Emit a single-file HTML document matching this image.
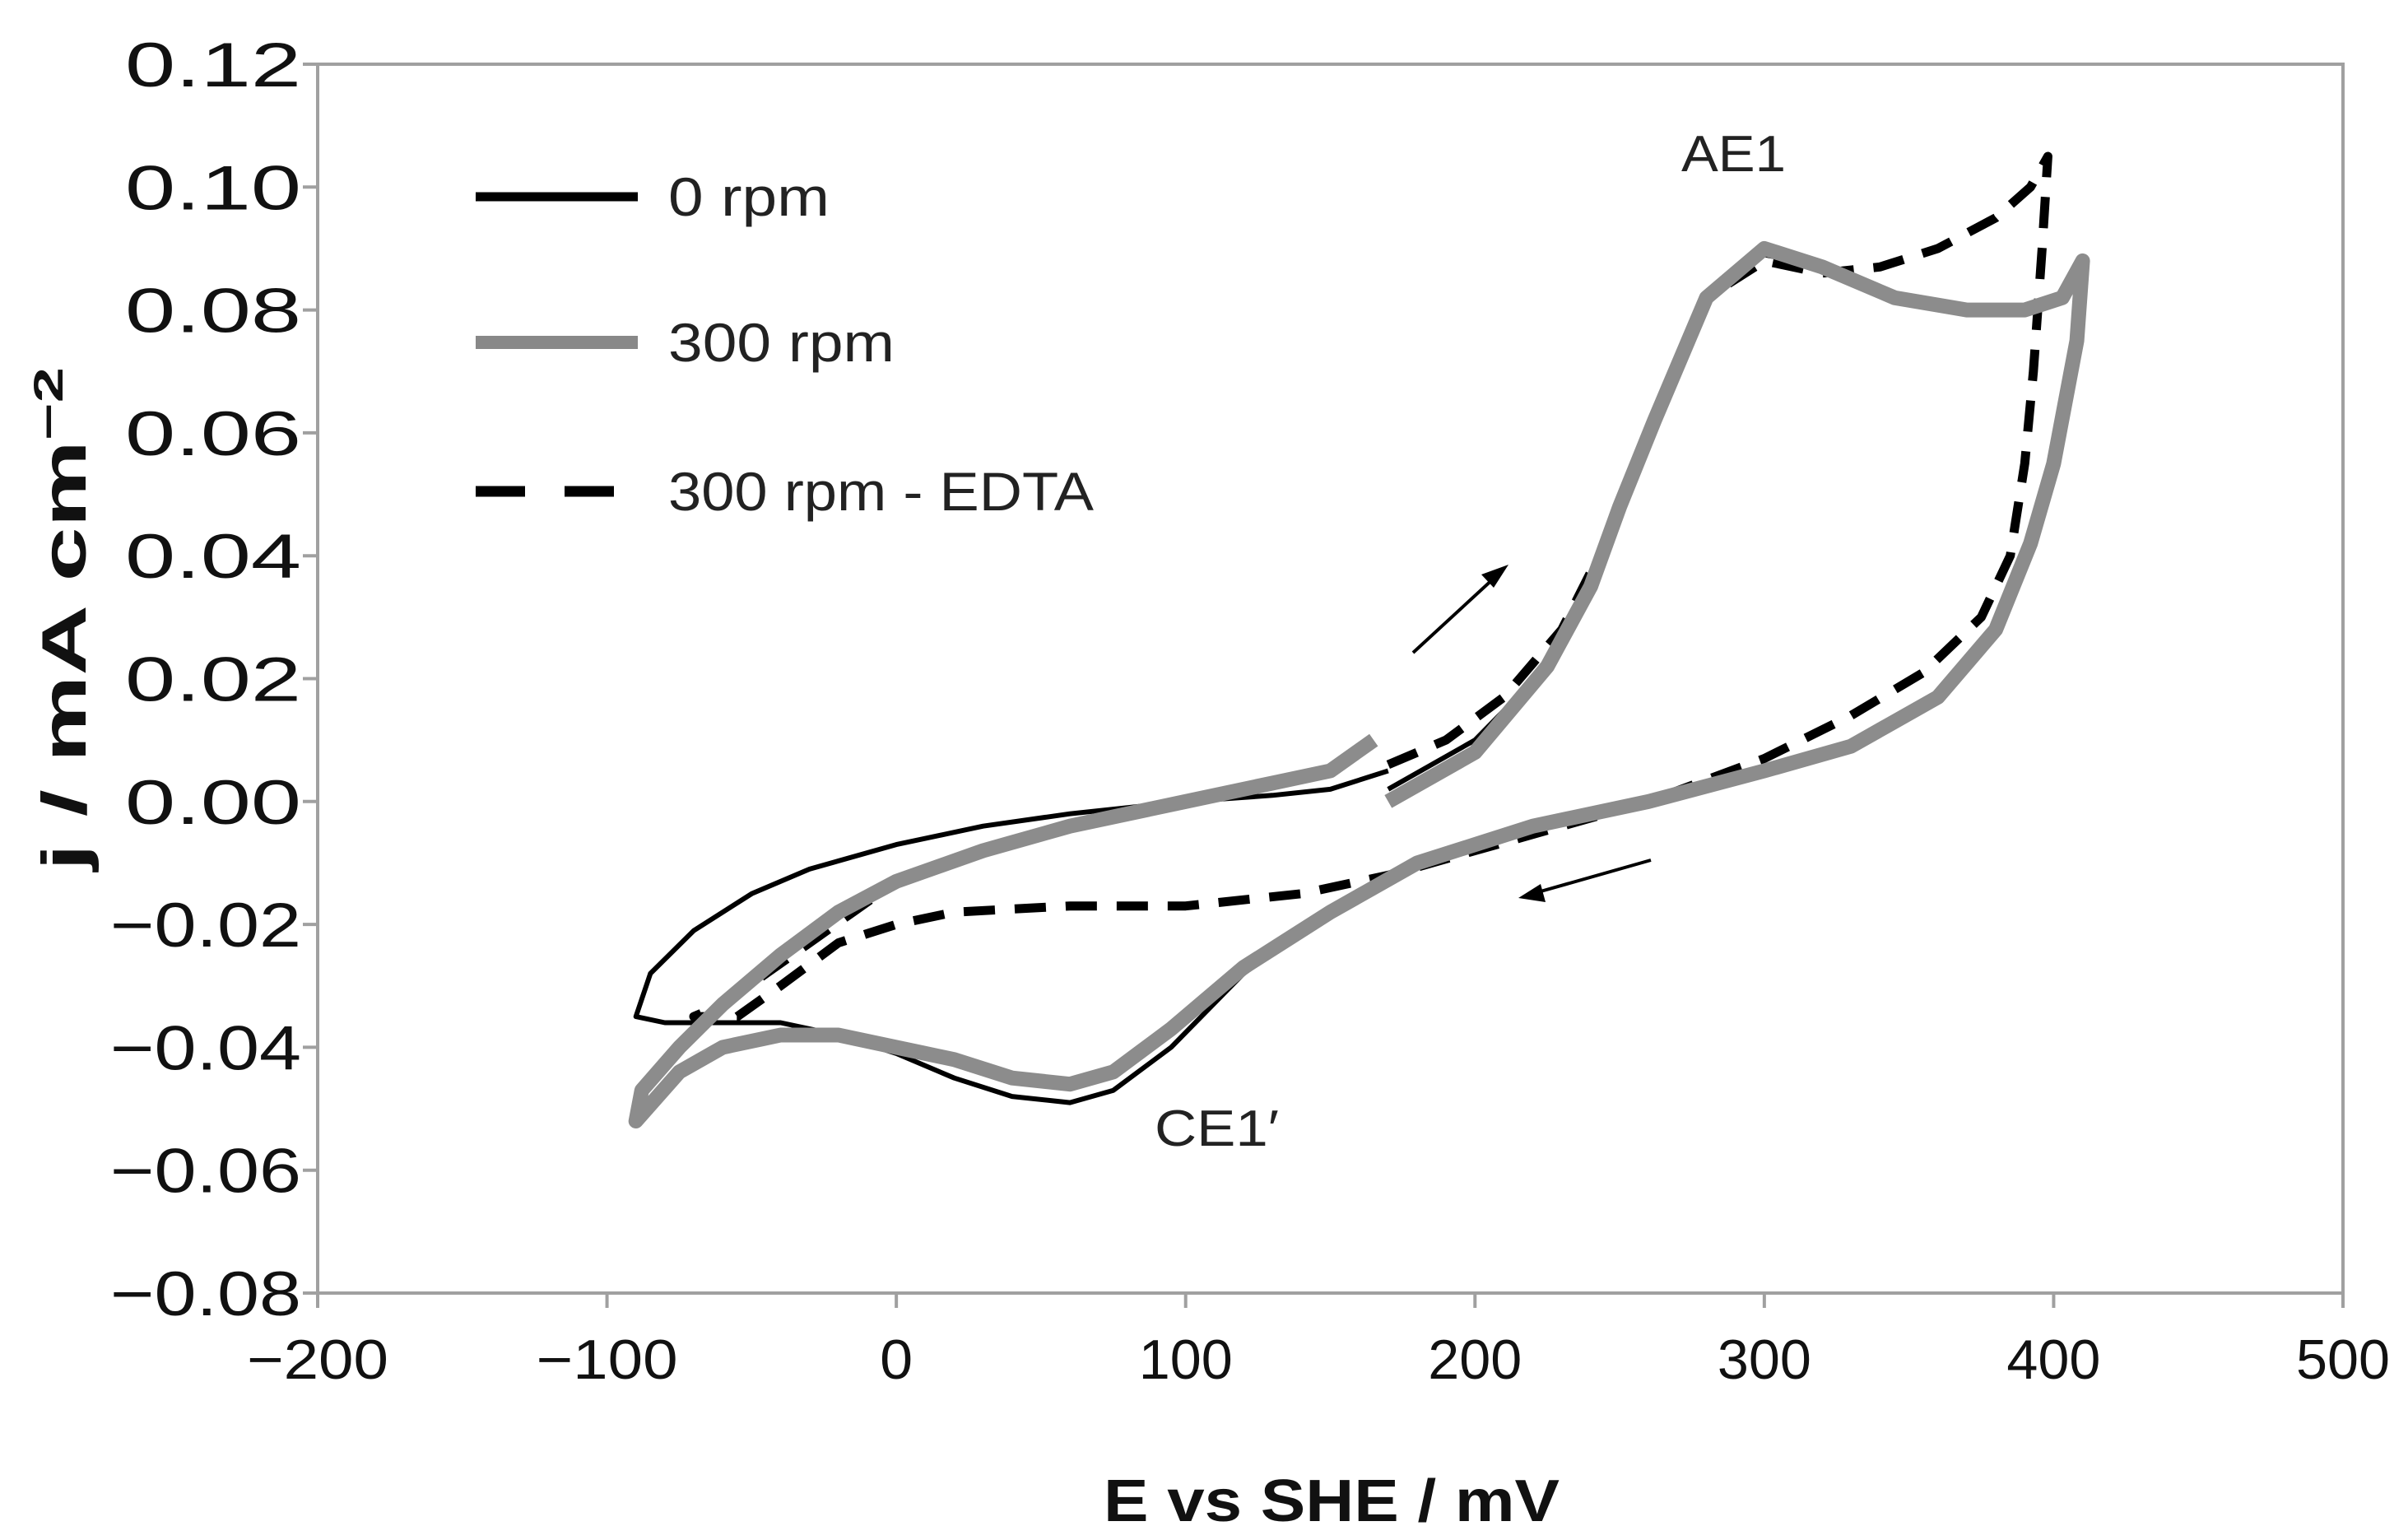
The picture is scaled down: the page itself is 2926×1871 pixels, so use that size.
<!DOCTYPE html>
<html><head><meta charset="utf-8"><style>
html,body{margin:0;padding:0;background:#fff;}
svg{display:block;font-family:"Liberation Sans",Arial,sans-serif;}
</style></head><body>
<svg id="chart" width="2926" height="1871" viewBox="0 0 2926 1871" xmlns="http://www.w3.org/2000/svg">
<rect x="0" y="0" width="2926" height="1871" fill="#fff"/>
<g id="axes"></g>
<g id="series"></g>
<g>
 <line x1="578" y1="239" x2="775" y2="239" stroke="#000" stroke-width="11"/>
 <text x="812" y="262" font-size="66" textLength="196" lengthAdjust="spacingAndGlyphs" fill="#222">0 rpm</text>
 <line x1="578" y1="416" x2="775" y2="416" stroke="#888" stroke-width="16"/>
 <text x="812" y="439" font-size="66" textLength="275" lengthAdjust="spacingAndGlyphs" fill="#222">300 rpm</text>
 <line x1="578" y1="597" x2="760" y2="597" stroke="#000" stroke-width="13" stroke-dasharray="60,48"/>
 <text x="812" y="620" font-size="66" textLength="517" lengthAdjust="spacingAndGlyphs" fill="#222">300 rpm - EDTA</text>
</g>
<text x="2043" y="208" font-size="62" textLength="127" lengthAdjust="spacingAndGlyphs" fill="#222">AE1</text>
<text x="1403" y="1392" font-size="62" textLength="151" lengthAdjust="spacingAndGlyphs" fill="#222">CE1′</text>
<g>
 <line x1="1717" y1="793" x2="1818" y2="700" stroke="#000" stroke-width="4"/>
 <polygon points="1833,686 1800,698 1815,714" fill="#000"/>
</g>
<g>
 <line x1="2006" y1="1045" x2="1865" y2="1085" stroke="#000" stroke-width="4"/>
 <polygon points="1845,1091 1872,1074 1878,1096" fill="#000"/>
</g>
<text x="1618" y="1848" font-size="72" font-weight="bold" textLength="554" lengthAdjust="spacingAndGlyphs" text-anchor="middle" fill="#111">E vs SHE / mV</text>
<text transform="translate(104,752) rotate(-90)" font-size="76" font-weight="bold" text-anchor="middle" textLength="612" lengthAdjust="spacingAndGlyphs" fill="#111">j / mA cm<tspan dy="-28" font-size="50">−2</tspan></text>
</svg>
<script>
const xTicks=[-200,-100,0,100,200,300,400,500];
const yTicks=[0.12,0.10,0.08,0.06,0.04,0.02,0.00,-0.02,-0.04,-0.06,-0.08];
const yTickLabels=["0.12","0.10","0.08","0.06","0.04","0.02","0.00","−0.02","−0.04","−0.06","−0.08"];
const xTickLabels=["−200","−100","0","100","200","300","400","500"];
const rpm300E=[170,200,225,240,250,262,280,300,320,345,370,390,403,410,408,400,392,380,360,330,300,260,220,180,150,120,95,75,60,40,20,0,-20,-40,-60,-75,-90,-88,-75,-60,-40,-20,0,30,60,100,130,150,165];
const rpm300J=[0.0,0.008,0.022,0.035,0.048,0.062,0.082,0.090,0.087,0.082,0.080,0.080,0.082,0.088,0.075,0.055,0.042,0.028,0.017,0.009,0.005,0.0,-0.004,-0.010,-0.018,-0.027,-0.037,-0.044,-0.046,-0.045,-0.042,-0.040,-0.038,-0.038,-0.040,-0.044,-0.052,-0.047,-0.040,-0.033,-0.025,-0.018,-0.013,-0.008,-0.004,0.0,0.003,0.005,0.010];
const rpm0E=[170,200,225,240,250,262,280,300,320,345,370,390,403,410,408,400,392,380,360,330,300,260,220,180,150,120,95,75,60,40,20,0,-20,-40,-60,-80,-90,-85,-70,-50,-30,0,30,60,100,130,150,170];
const rpm0J=[0.002,0.010,0.022,0.035,0.048,0.062,0.082,0.089,0.087,0.082,0.080,0.080,0.082,0.087,0.075,0.055,0.042,0.028,0.017,0.009,0.005,0.0,-0.004,-0.010,-0.018,-0.028,-0.040,-0.047,-0.049,-0.048,-0.045,-0.041,-0.038,-0.036,-0.036,-0.036,-0.035,-0.028,-0.021,-0.015,-0.011,-0.007,-0.004,-0.002,0.0,0.001,0.002,0.005];
const edtaE=[170,190,210,230,245,260,280,300,320,340,360,380,392,398,396,393,390,385,375,355,330,300,260,230,200,170,140,100,60,20,0,-20,-40,-55,-70,-60,-45,-30,-15,0];
const edtaJ=[0.006,0.010,0.017,0.028,0.042,0.060,0.082,0.088,0.086,0.087,0.090,0.095,0.100,0.105,0.090,0.070,0.055,0.040,0.030,0.021,0.014,0.007,0.0,-0.004,-0.008,-0.012,-0.015,-0.017,-0.017,-0.018,-0.020,-0.023,-0.030,-0.035,-0.035,-0.033,-0.028,-0.023,-0.018,-0.013];
const X0=386,X1=2847,Y0=78,Y1=1571;
function sx(e){return X0+(e+200)/700*(X1-X0);}
function sy(j){return Y0+(0.12-j)/0.20*(Y1-Y0);}
const NS="http://www.w3.org/2000/svg";
const axes=document.getElementById('axes');
const series=document.getElementById('series');
function mk(tag,attrs,parent){const el=document.createElementNS(NS,tag);for(const k in attrs)el.setAttribute(k,attrs[k]);parent.appendChild(el);return el;}
let frame=mk('rect',{x:X0,y:Y0,width:X1-X0,height:Y1-Y0,fill:'none',stroke:'#a0a0a0','stroke-width':4},axes);


yTicks.forEach((v,i)=>{
 const t=mk('line',{x1:X0-18,x2:X0,y1:sy(v),y2:sy(v),stroke:'#a0a0a0','stroke-width':4},axes);
 
 
 const neg=yTickLabels[i].charAt(0)==='−';
 const tx=mk('text',{x:X0-20,y:sy(v)+27,'font-size':76,'text-anchor':'end',fill:'#111',textLength:neg?232:214,lengthAdjust:'spacingAndGlyphs'},axes);
 tx.textContent=yTickLabels[i];
 
 
});
xTicks.forEach((v,i)=>{
 const t=mk('line',{x1:sx(v),x2:sx(v),y1:Y1,y2:Y1+18,stroke:'#a0a0a0','stroke-width':4},axes);
 
 
 const lbl=xTickLabels[i];
 const w=lbl.length*38+ (lbl.charAt(0)==='−'?20:0);
 const tx=mk('text',{x:sx(v),y:Y1+104,'font-size':68,'text-anchor':'middle',fill:'#111',textLength:lbl.length===1?40:w,lengthAdjust:'spacingAndGlyphs'},axes);
 tx.textContent=lbl;
 
 
});
function pathD(E,J){return E.map((e,i)=>(i?'L':'M')+sx(e).toFixed(1)+','+sy(J[i]).toFixed(1)).join(' ');}
const p0=mk('path',{d:pathD(rpm0E,rpm0J),fill:'none',stroke:'#000','stroke-width':6,'stroke-linejoin':'round'},series);


const pe=mk('path',{d:pathD(edtaE,edtaJ),fill:'none',stroke:'#000','stroke-width':11,'stroke-dasharray':'38,24','stroke-linejoin':'round'},series);


const p3=mk('path',{d:pathD(rpm300E,rpm300J),fill:'none',stroke:'#8c8c8c','stroke-width':18,'stroke-linejoin':'round'},series);


</script>
</body></html>
